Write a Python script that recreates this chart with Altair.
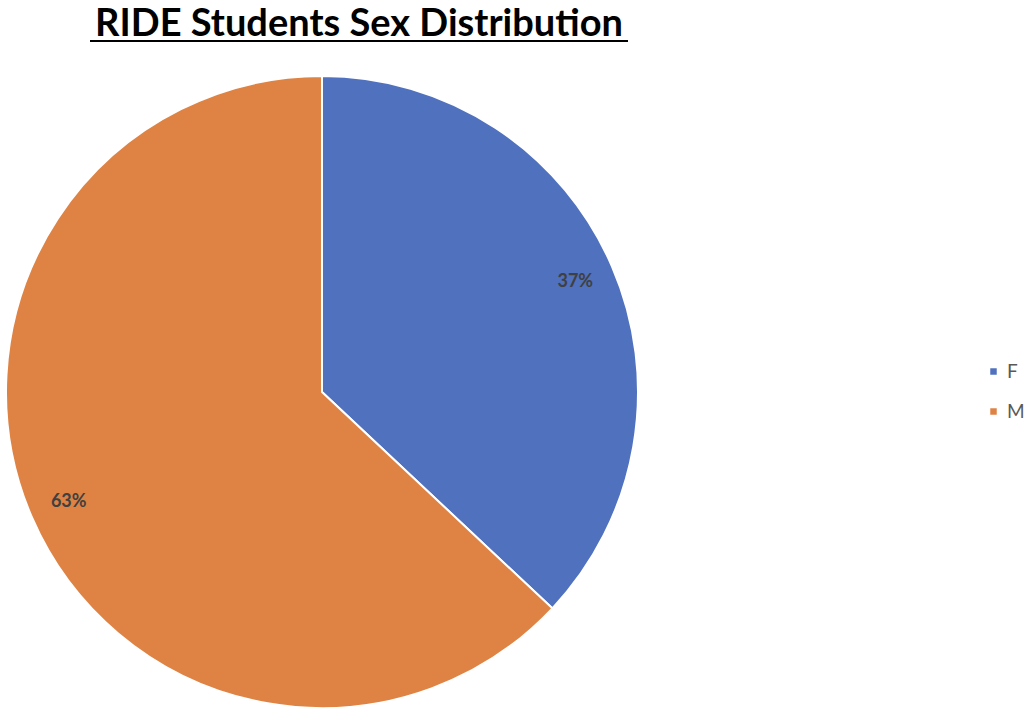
import altair as alt
import pandas as pd

categories = ["F", "M"]
values = [37, 63]
labels = ["37%", "63%"]
colors = ["#4F71BE", "#DF8344"]
title_text = "RIDE Students Sex Distribution"

df = pd.DataFrame({"sex": categories, "value": values, "label": labels, "order": [0, 1]})

CX, CY, R = 322, 392, 316

base = alt.Chart(df).encode(
    theta=alt.Theta("value:Q", stack=True),
    order=alt.Order("order:Q"),
)

pie = base.mark_arc(radius=R, stroke="white", strokeWidth=2).encode(
    x=alt.value(CX), y=alt.value(CY),
    color=alt.Color(
        "sex:N",
        scale=alt.Scale(domain=categories, range=colors),
        legend=alt.Legend(
            title=None, orient="none", legendX=984, legendY=362, padding=0,
            symbolType="square", symbolSize=42, symbolStrokeWidth=0,
            labelFontSize=19, labelColor="#595959", labelFont="Lato",
            rowPadding=20, labelOffset=4, labelLimit=200,
        ),
    ),
)

text = base.mark_text(radius=276, font="Lato", fontWeight="bold", fontSize=18, color="#404040").encode(
    x=alt.value(CX), y=alt.value(CY), text="label:N"
)

title_df = pd.DataFrame({"t": [title_text]})
title = alt.Chart(title_df).mark_text(
    font="Lato", fontWeight="bold", fontSize=38, color="black", align="center", baseline="alphabetic"
).encode(x=alt.value(359), y=alt.value(36), text="t:N")

underline = alt.Chart(title_df).mark_rule(color="black", strokeWidth=2).encode(
    x=alt.value(90), x2=alt.value(628), y=alt.value(41)
)

chart = alt.layer(pie, text, title, underline).properties(
    width=1024, height=708, padding=0, autosize=alt.AutoSizeParams(type="none")
).configure_view(stroke=None)

chart.save("out.html", embed_options={"renderer": "svg", "actions": False})
